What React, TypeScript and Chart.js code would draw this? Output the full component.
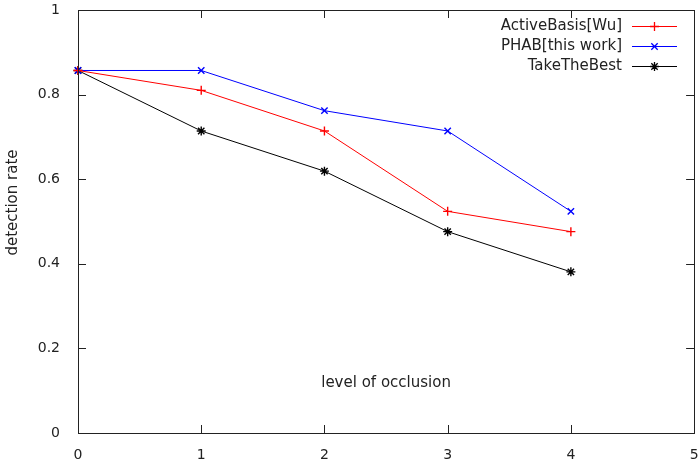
import React, { useEffect, useRef } from "react";
import { Chart, registerables } from "chart.js";

Chart.register(...registerables);

const levels = [0, 1, 2, 3, 4];
const activeBasis = [0.857, 0.81, 0.714, 0.524, 0.476];
const phab = [0.857, 0.857, 0.762, 0.714, 0.524];
const takeTheBest = [0.857, 0.714, 0.619, 0.476, 0.381];
const seriesNames = ["ActiveBasis[Wu]", "PHAB[this work]", "TakeTheBest"];
const seriesColors = ["#ff0000", "#0000ff", "#000000"];
const seriesMarkers = ["cross", "crossRot", "star"];
const xLabel = "level of occlusion";
const yLabel = "detection rate";

const FONT = "DejaVu Sans";

function drawMarker(ctx: CanvasRenderingContext2D, style: string, x: number, y: number, r: number) {
  ctx.beginPath();
  const d = r * Math.SQRT1_2;
  if (style === "cross" || style === "star") {
    ctx.moveTo(x - r, y);
    ctx.lineTo(x + r, y);
    ctx.moveTo(x, y - r);
    ctx.lineTo(x, y + r);
  }
  if (style === "crossRot" || style === "star") {
    ctx.moveTo(x - d, y - d);
    ctx.lineTo(x + d, y + d);
    ctx.moveTo(x - d, y + d);
    ctx.lineTo(x + d, y - d);
  }
  ctx.stroke();
}

const framePlugin = {
  id: "gnuFrame",
  afterDraw(chart: any) {
    const { ctx, chartArea } = chart;
    const { left, right, top, bottom } = chartArea;
    const xs = chart.scales.x;
    const ys = chart.scales.y;
    ctx.save();
    ctx.strokeStyle = "#222";
    ctx.lineWidth = 1;
    ctx.strokeRect(Math.round(left) + 0.5, Math.round(top) + 0.5, Math.round(right - left), Math.round(bottom - top));
    const tl = 8;
    ctx.beginPath();
    for (let v = 1; v <= 4; v++) {
      const px = Math.round(xs.getPixelForValue(v)) + 0.5;
      ctx.moveTo(px, bottom);
      ctx.lineTo(px, bottom - tl);
      ctx.moveTo(px, top);
      ctx.lineTo(px, top + tl);
    }
    for (let k = 1; k <= 4; k++) {
      const py = Math.round(ys.getPixelForValue(k * 0.2)) + 0.5;
      ctx.moveTo(left, py);
      ctx.lineTo(left + tl, py);
      ctx.moveTo(right, py);
      ctx.lineTo(right - tl, py);
    }
    ctx.stroke();

    // x label inside plot
    ctx.fillStyle = "#222";
    ctx.font = `15px "${FONT}"`;
    ctx.textAlign = "center";
    ctx.textBaseline = "middle";
    ctx.fillText(xLabel, (left + right) / 2, bottom - 50);

    // y label
    ctx.save();
    ctx.translate(13, (top + bottom) / 2 - 19);
    ctx.rotate(-Math.PI / 2);
    ctx.fillText(yLabel, 0, 0);
    ctx.restore();

    // legend
    const textRight = 622;
    const lineL = 632;
    const lineR = 677;
    chart.data.datasets.forEach((ds: any, i: number) => {
      const y = 26 + i * 20;
      ctx.fillStyle = "#222";
      ctx.textAlign = "right";
      ctx.fillText(ds.label, textRight, y);
      ctx.strokeStyle = ds.borderColor;
      ctx.lineWidth = 1;
      ctx.beginPath();
      ctx.moveTo(lineL, y + 0.5);
      ctx.lineTo(lineR, y + 0.5);
      ctx.stroke();
      ctx.lineWidth = 1.3;
      drawMarker(ctx, ds.pointStyle, (lineL + lineR) / 2, y + 0.5, 4.5);
    });
    ctx.restore();
  },
};

export default function App() {
  const ref = useRef<HTMLCanvasElement | null>(null);
  useEffect(() => {
    if (!ref.current) return;
    const datasets = [activeBasis, phab, takeTheBest].map((vals, i) => ({
      label: seriesNames[i],
      data: levels.map((x, j) => ({ x, y: vals[j] })),
      borderColor: seriesColors[i],
      backgroundColor: seriesColors[i],
      borderWidth: 1,
      pointStyle: seriesMarkers[i],
      pointRadius: 4.5,
      pointBorderWidth: 1.4,
      pointBorderColor: seriesColors[i],
      tension: 0,
      fill: false,
      clip: false,
    }));
    const chart = new Chart(ref.current, {
      type: "line",
      data: { datasets },
      options: {
        responsive: false,
        animation: false,
        layout: { padding: { left: 0, right: 4, top: 10, bottom: 0 } },
        plugins: { legend: { display: false }, tooltip: { enabled: false } },
        scales: {
          x: {
            type: "linear",
            min: 0,
            max: 5,
            grid: { display: false },
            border: { display: false },
            ticks: {
              stepSize: 1,
              padding: 6,
              color: "#222",
              font: { family: FONT, size: 14 },
              maxRotation: 0,
            },
            afterFit: (s: any) => {
              s.height = 29;
              s.paddingLeft = 0;
              s.paddingRight = 0;
            },
          },
          y: {
            type: "linear",
            min: 0,
            max: 1,
            grid: { display: false },
            border: { display: false },
            ticks: {
              stepSize: 0.2,
              padding: 10,
              color: "#222",
              font: { family: FONT, size: 14 },
              callback: (v: any) => String(parseFloat(Number(v).toFixed(2))),
            },
            afterFit: (s: any) => {
              s.width = 78;
              s.paddingTop = 0;
              s.paddingBottom = 0;
            },
          },
        },
      },
      plugins: [framePlugin],
    } as any);
    return () => chart.destroy();
  }, []);
  return (
    <div style={{ position: "absolute", left: 0, top: 0, width: 700, height: 462, background: "#fff" }}>
      <canvas ref={ref} width={700} height={462} style={{ width: 700, height: 462 }} />
    </div>
  );
}
